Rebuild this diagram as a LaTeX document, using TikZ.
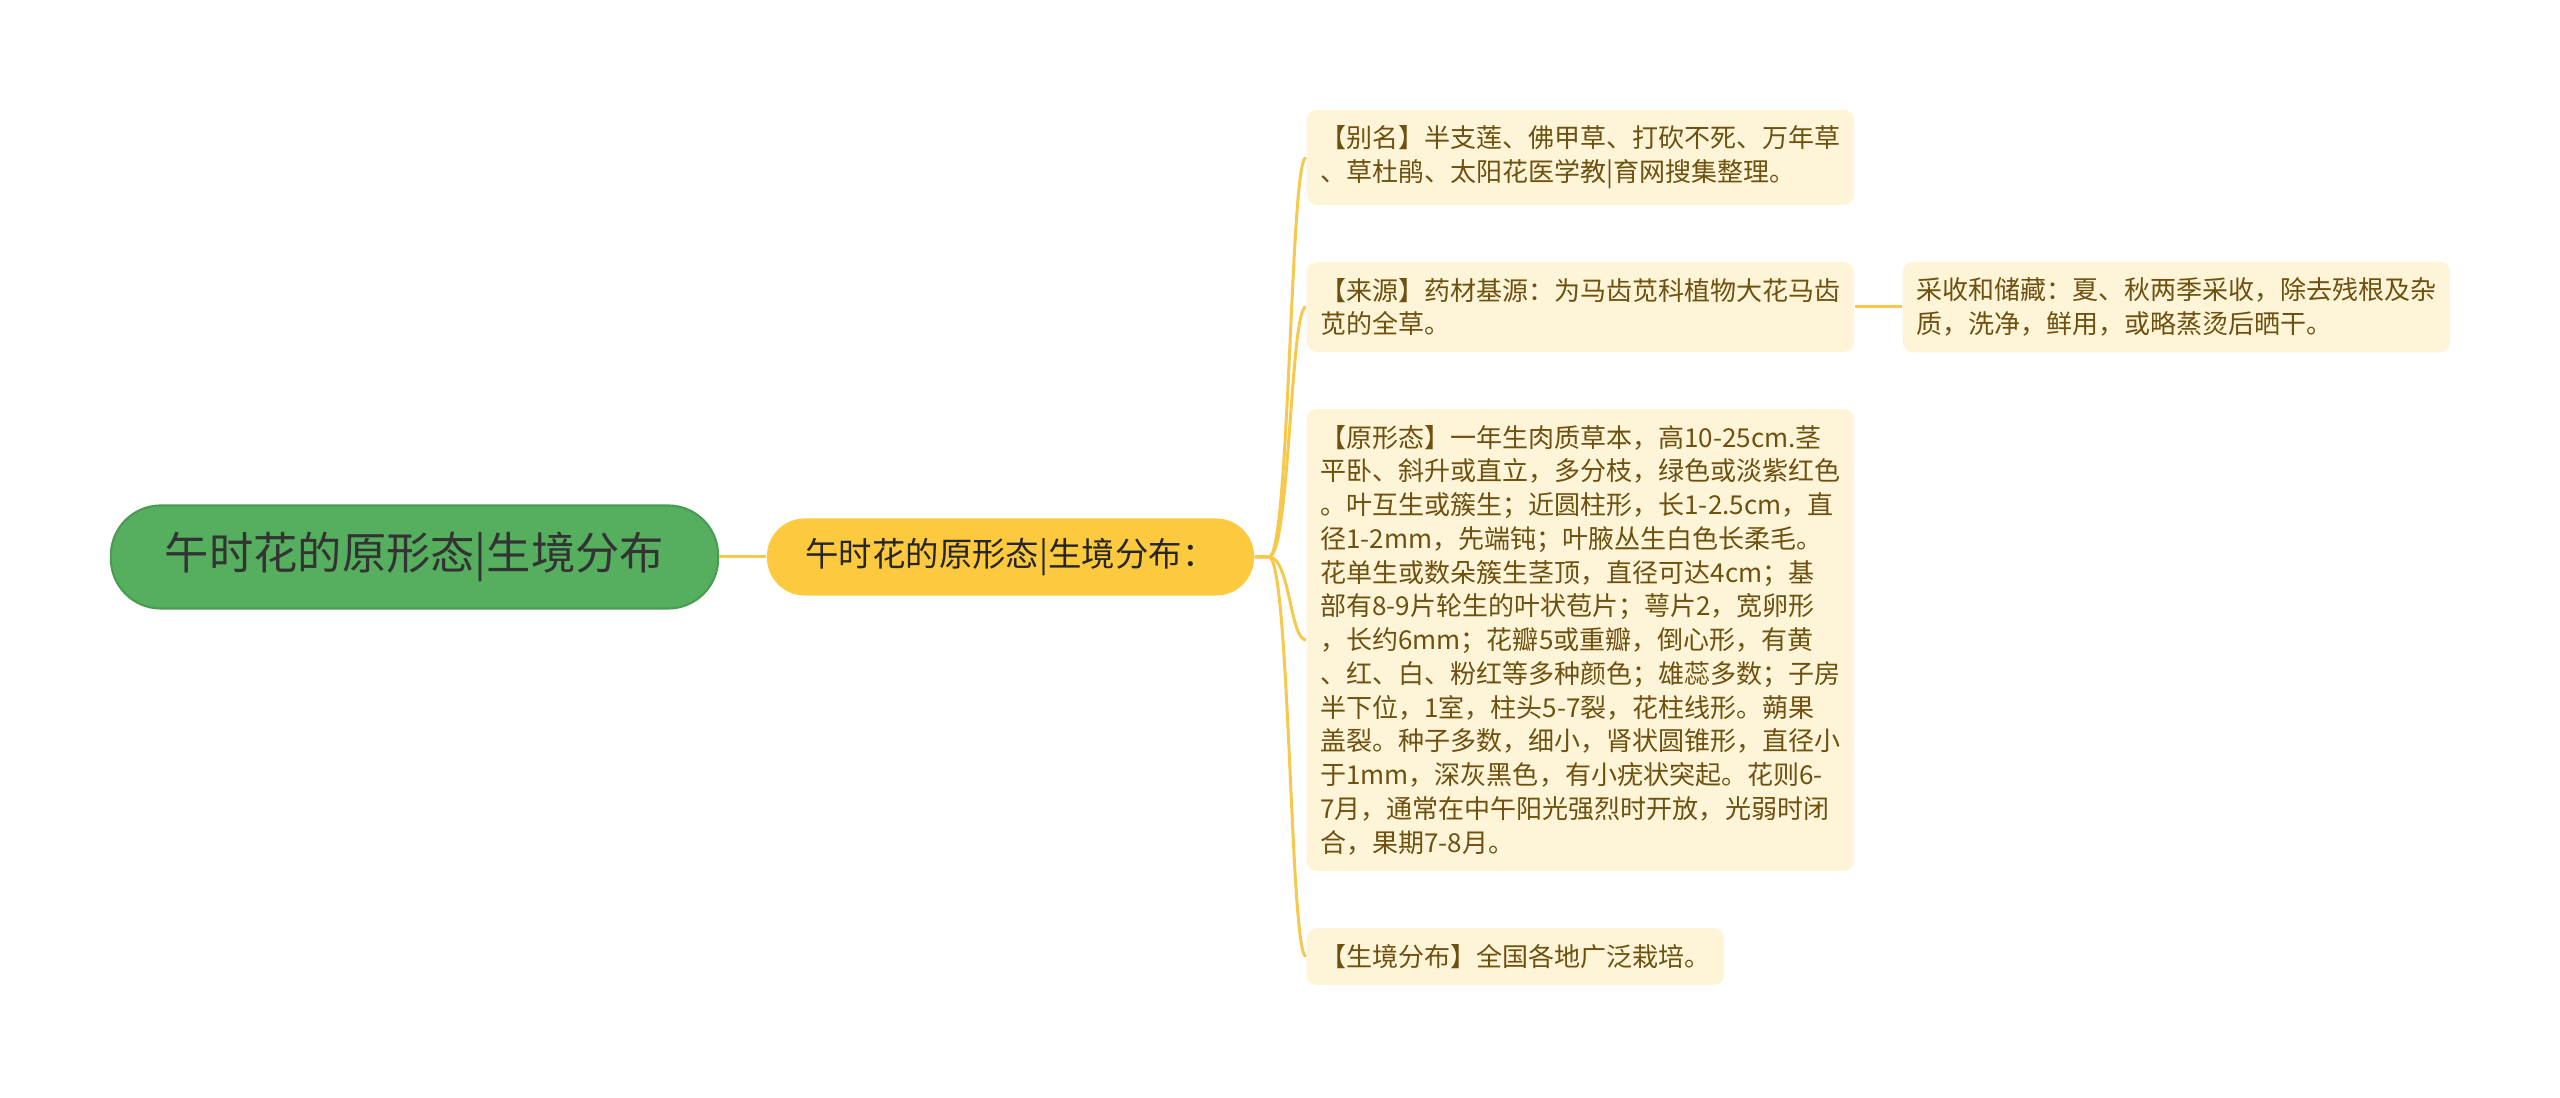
\documentclass[tikz,border=0pt]{standalone}
\usepackage{fontspec}
\setmainfont{Noto Sans CJK SC}
\definecolor{rootgreen}{HTML}{55AF5E}
\definecolor{rootedge}{HTML}{4A9C52}
\definecolor{mainyellow}{HTML}{FCC93F}
\definecolor{leafcream}{HTML}{FEF5D9}
\definecolor{leaftext}{HTML}{6E500F}
\definecolor{linkyellow}{HTML}{F6C84C}
\begin{document}
\begin{tikzpicture}[
	x = 0.01cm, y = -0.01cm, % pixel grid, y down
	link/.style = {draw = linkyellow, line width = 0.85pt},
	rootbox/.style = {fill = rootgreen, draw = rootedge, line width = 0.6pt,
		rounded corners = 0.5cm, minimum width = 6.07cm, minimum height = 1.03cm,
		text = black!80, font = \fontsize{12.6pt}{15pt}\selectfont},
	mainbox/.style = {fill = mainyellow, rounded corners = 0.38cm,
		minimum width = 4.87cm, minimum height = 0.77cm,
		text = black!85, font = \fontsize{9.5pt}{11pt}\selectfont},
	leafbox/.style = {fill = leafcream, rounded corners = 0.1cm, anchor = west,
		align = left, inner xsep = 0.135cm, inner ysep = 0.16cm,
		text = leaftext, font = \fontsize{7.4pt}{9.6pt}\selectfont}
	]
	
	\useasboundingbox (0,0) rectangle (2560,1098);
	
	\node[rootbox] (nRoot) at (414.5,557) {午时花的原形态|生境分布};
	\node[mainbox] (nMain) at (1010.5,557) {午时花的原形态|生境分布：};
	
	\node[leafbox, text width = 5.2cm] (nAlias) at (1306,157.5)
		{【别名】半支莲、佛甲草、打砍不死、万年草\\、草杜鹃、太阳花医学教|育网搜集整理。};
	\node[leafbox, text width = 5.2cm] (nSource) at (1306,307)
		{【来源】药材基源：为马齿苋科植物大花马齿\\苋的全草。};
	\node[leafbox, text width = 5.2cm] (nHarvest) at (1902,307)
		{采收和储藏：夏、秋两季采收，除去残根及杂\\质，洗净，鲜用，或略蒸烫后晒干。};
	\node[leafbox, text width = 5.2cm] (nForm) at (1306,640)
		{【原形态】一年生肉质草本，高10-25cm.茎\\
		平卧、斜升或直立，多分枝，绿色或淡紫红色\\
		。叶互生或簇生；近圆柱形，长1-2.5cm，直\\
		径1-2mm，先端钝；叶腋丛生白色长柔毛。\\
		花单生或数朵簇生茎顶，直径可达4cm；基\\
		部有8-9片轮生的叶状苞片；萼片2，宽卵形\\
		，长约6mm；花瓣5或重瓣，倒心形，有黄\\
		、红、白、粉红等多种颜色；雄蕊多数；子房\\
		半下位，1室，柱头5-7裂，花柱线形。蒴果\\
		盖裂。种子多数，细小，肾状圆锥形，直径小\\
		于1mm，深灰黑色，有小疣状突起。花则6-\\
		7月，通常在中午阳光强烈时开放，光弱时闭\\
		合，果期7-8月。};
	\node[leafbox] (nHabitat) at (1306,956.5)
		{【生境分布】全国各地广泛栽培。};
	
	% root to main topic
	\path[link] (nRoot) -- (nMain);
	
	% main topic to its branches
	\foreach \leaf in {nAlias, nSource, nForm, nHabitat}
		\path[link] (nMain.east) -- ++(14,0)
			.. controls (1290,557) and (1290,0 |- \leaf.west) .. (\leaf.west);
	
	\path[link] (nSource) -- (nHarvest);
	
\end{tikzpicture}
\end{document}
